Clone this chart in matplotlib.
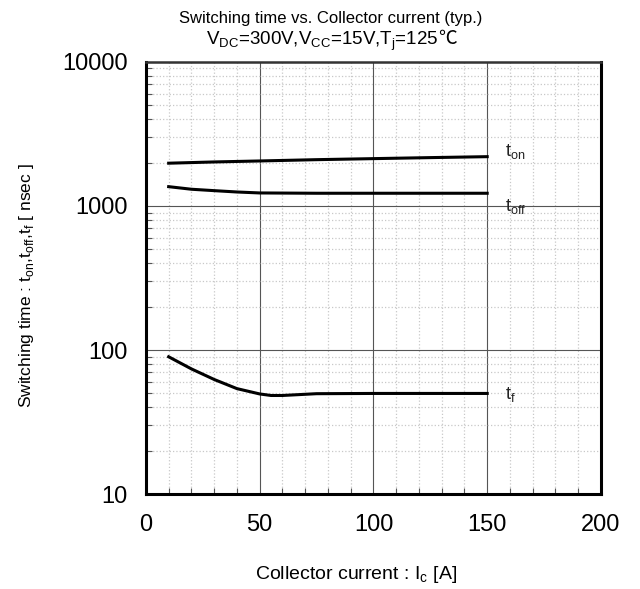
import numpy as np
import matplotlib.pyplot as plt
from matplotlib.ticker import FixedLocator, NullFormatter

plt.rcParams['font.family'] = ['Liberation Sans', 'DejaVu Sans']
plt.rcParams['mathtext.fontset'] = 'custom'
plt.rcParams['mathtext.rm'] = 'Liberation Sans'

# values
ic_on = [10, 30, 50, 75, 100, 125, 150]
t_on = [1980, 2020, 2052, 2095, 2130, 2165, 2198]

ic_off = [10, 20, 30, 40, 50, 75, 100, 125, 150]
t_off = [1361, 1306, 1277, 1250, 1231, 1225, 1225, 1225, 1225]

ic_f = [10, 20, 30, 40, 50, 55, 60, 75, 100, 125, 150]
t_f = [89.8, 74.0, 62.5, 54.0, 49.6, 48.4, 48.4, 49.8, 50, 50, 50]

xticks = [0, 50, 100, 150, 200]
yticks = [10, 100, 1000, 10000]
ytick_labels = ['10', '100', '1000', '10000']

fig = plt.figure(figsize=(6.4, 5.89), dpi=100)
ax = fig.add_axes([0.228, 0.161, 0.711, 0.734])

ax.set_yscale('log')
ax.set_xlim(0, 200)
ax.set_ylim(10, 10000)

# grid: light dotted minor, thin grey major
minor_x = [v for v in range(10, 200, 10) if v % 50 != 0]
ax.xaxis.set_minor_locator(FixedLocator(minor_x))
ax.xaxis.set_major_locator(FixedLocator(xticks))
ax.yaxis.set_major_locator(FixedLocator(yticks))
minor_y = [m * 10 ** d for d in range(1, 4) for m in range(2, 10)]
ax.yaxis.set_minor_locator(FixedLocator(minor_y))
ax.yaxis.set_minor_formatter(NullFormatter())
ax.set_yticklabels(ytick_labels)

ax.grid(which='minor', color='#c8c8c8', linestyle=':', linewidth=0.9)
ax.grid(which='major', color='#555555', linestyle='-', linewidth=0.8)

ax.tick_params(which='both', direction='in', labelsize=17, length=4, width=0.8, color='#555555')
ax.tick_params(axis='x', which='major', length=0, pad=14)
ax.tick_params(axis='y', which='major', length=0, pad=13)

for side in ['left', 'bottom', 'right', 'top']:
    ax.spines[side].set_linewidth(2.2)
    ax.spines[side].set_color('black')
ax.spines['top'].set_linewidth(1.8)
ax.spines['top'].set_color('#333333')

ax.plot(ic_on, t_on, color='black', linewidth=2.2)
ax.plot(ic_off, t_off, color='black', linewidth=2.2)
ax.plot(ic_f, t_f, color='black', linewidth=2.2)

ax.text(158, 2400, r't$_{\mathregular{on}}$', fontsize=13, color='#222222', va='center')
ax.text(158, 990, r't$_{\mathregular{off}}$', fontsize=13, color='#222222', va='center')
ax.text(158, 49, r't$_{\mathregular{f}}$', fontsize=13, color='#222222', va='center')

fig.text(0.516, 0.969, 'Switching time vs. Collector current (typ.)', ha='center', va='center', fontsize=12)
line2 = fig.text(0.322, 0.930, r'V$_{\mathregular{DC}}$=300V,V$_{\mathregular{CC}}$=15V,T$_{\mathregular{j}}$=125',
                 ha='left', va='center', fontsize=13.5)
# Liberation Sans has no ℃, so append it in a font that does
ax.annotate('℃', xy=(1, 0.62), xycoords=line2, ha='left', va='center', fontsize=13.5,
            family=['Noto Sans CJK JP', 'DejaVu Sans'], annotation_clip=False)

fig.text(0.557, 0.025, r'Collector current : I$_{\mathregular{c}}$ [A]', ha='center', va='center', fontsize=14)
fig.text(0.042, 0.515, r'Switching time : t$_{\mathregular{on}}$,t$_{\mathregular{off}}$,t$_{\mathregular{f}}$ [ nsec ]',
         ha='center', va='center', rotation=90, fontsize=12.5)

fig.savefig('out.png', dpi=100)
